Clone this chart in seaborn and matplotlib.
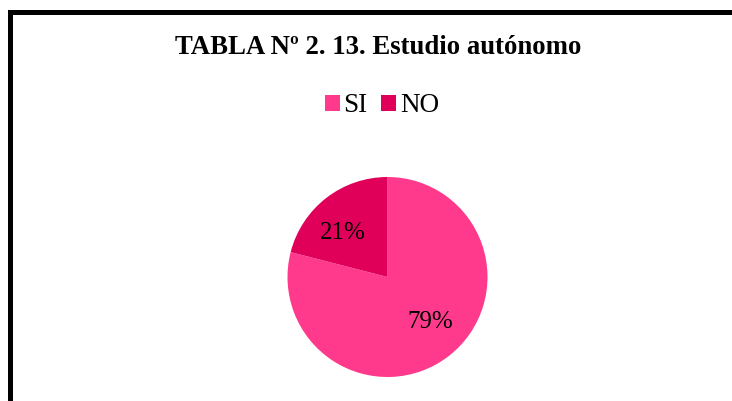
import matplotlib
matplotlib.use('Agg')
import numpy as np
import matplotlib.pyplot as plt
from matplotlib.patches import Rectangle
import seaborn as sns

labels = ['SI', 'NO']
values = [79, 21]
colors = ['#FF3A8C', '#E0005A']

sns.set_theme(style='white')
plt.rcParams['font.family'] = ['Liberation Serif', 'DejaVu Serif']
plt.rcParams['text.color'] = 'black'

fig = plt.figure(figsize=(7.32, 4.01), dpi=100)
fig.patch.set_facecolor('white')

# outer frame (runs off the right and bottom of the image)
fig.patches.append(Rectangle((9.5 / 732, -0.2), 1.2, 1.2 - 11.5 / 401,
                             transform=fig.transFigure, fill=False,
                             edgecolor='black', linewidth=3.6))

ax = fig.add_axes([(387.5 - 100) / 732, (124 - 100) / 401, 200 / 732, 200 / 401])
wedges, texts, autotexts = ax.pie(values, colors=colors, startangle=90, counterclock=False,
                                  autopct='%1.0f%%', pctdistance=0.63,
                                  wedgeprops={'linewidth': 0},
                                  textprops={'fontsize': 18, 'color': 'black'})
# excel-like label placement
label_angles = [-46.6, 135]
for t, a in zip(autotexts, label_angles):
    t.set_position((0.625 * np.cos(np.radians(a)), 0.625 * np.sin(np.radians(a))))
ax.set_xlim(-1, 1)
ax.set_ylim(-1, 1)
ax.set_aspect('equal')
ax.axis('off')

fig.text(378 / 732, 1 - 48 / 401, 'TABLA Nº 2. 13. Estudio autónomo', ha='center', va='center',
         fontsize=19.3, fontweight='bold', color='black')

fig.legend(wedges, labels, loc='center', bbox_to_anchor=(382 / 732, 1 - 106 / 401), ncol=2,
           frameon=False, fontsize=19.5, handlelength=0.55, handleheight=0.55, handletextpad=0.15,
           columnspacing=0.5)

fig.savefig('out.png', dpi=100)
